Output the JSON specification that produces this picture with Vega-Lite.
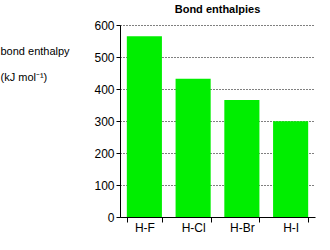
{
  "$schema": "https://vega.github.io/schema/vega-lite/v6.json",
  "width": 195,
  "height": 192,
  "autosize": "none",
  "padding": {"left": 120, "top": 25, "right": 15, "bottom": 33},
  "background": "white",
  "config": {
    "view": {"stroke": null},
    "font": "Liberation Sans"
  },
  "title": {
    "text": "Bond enthalpies",
    "fontSize": 11,
    "fontWeight": "bold",
    "font": "Liberation Sans",
    "color": "black",
    "anchor": "middle",
    "offset": 4
  },
  "data": {
    "values": [
      {"bond": "H-F", "enthalpy": 565},
      {"bond": "H-Cl", "enthalpy": 432},
      {"bond": "H-Br", "enthalpy": 366},
      {"bond": "H-I", "enthalpy": 299}
    ]
  },
  "mark": {"type": "bar", "color": "#00ee00"},
  "encoding": {
    "x": {
      "field": "bond",
      "type": "nominal",
      "sort": null,
      "scale": {"paddingInner": 0.28, "paddingOuter": 0.14},
      "axis": {
        "title": null,
        "labelAngle": 0,
        "labelFontSize": 12,
        "labelColor": "black",
        "labelFont": "Liberation Sans",
        "domainColor": "black",
        "tickColor": "black",
        "tickBand": "extent",
        "tickSize": 5,
        "labelPadding": 0
      }
    },
    "y": {
      "field": "enthalpy",
      "type": "quantitative",
      "scale": {"domain": [0, 600], "nice": false},
      "axis": {
        "values": [0, 100, 200, 300, 400, 500, 600],
        "title": ["bond enthalpy", "(kJ mol⁻¹)"],
        "titleAngle": 0,
        "titleAlign": "left",
        "titleBaseline": "middle",
        "titleX": -120,
        "titleY": 26,
        "titleFontSize": 11,
        "titleFontWeight": "normal",
        "titleFont": "Liberation Sans",
        "titleColor": "black",
        "titleLineHeight": 26,
        "labelFontSize": 12,
        "labelColor": "black",
        "labelFont": "Liberation Sans",
        "domainColor": "black",
        "tickColor": "black",
        "tickSize": 4,
        "labelPadding": 2,
        "grid": true,
        "gridColor": "black",
        "gridDash": [1, 2],
        "gridOpacity": 1
      }
    }
  }
}
